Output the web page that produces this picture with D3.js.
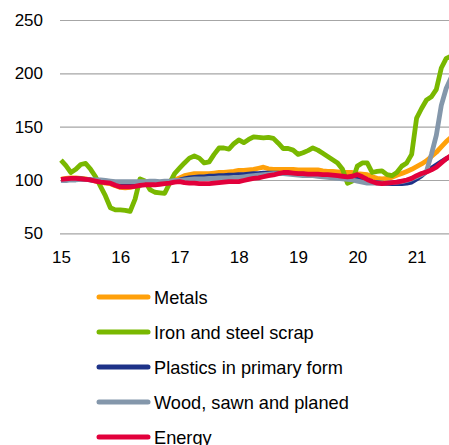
<!DOCTYPE html>
<html>
<head>
<meta charset="utf-8">
<script src="https://cdn.jsdelivr.net/npm/d3@7"></script>
<style>
  html, body { margin: 0; padding: 0; background: #fff; }
  svg { display: block; font-family: "Liberation Sans", Arial, sans-serif; }
</style>
</head>
<body>
<svg id="chart" width="449" height="445"></svg>
<script>
// Monthly index values, Jan 2015 onward
const yearTickLabels = ["15", "16", "17", "18", "19", "20", "21"];
const yTicks = [50, 100, 150, 200, 250];

const seriesNames = ["Metals", "Iron and steel scrap", "Plastics in primary form", "Wood, sawn and planed", "Energy"];
const seriesColors = ["#FFA00A", "#79B800", "#1D3288", "#8497AB", "#E2003B"];

const metals = [
  100.5,101.5,102,102,101.5,101,100,99,98,97,
  96.5,94.5,93,92.5,93,94,95.5,96,96.5,97,
  97.5,98.5,99,100,102,104,105,106,106,106,
  106,106.5,107,107,107.5,108,109,109,109.5,110,
  111,112,110.5,110,110,110,110,110,109.5,109.5,
  109.5,109.5,109.5,108.5,108,108,107.5,107,107,107,
  106,105.5,105,103,101.5,101,101.5,102.5,104.5,106,
  108,110,112.5,115,118,122,126,131,136,140
];
const ironScrap = [
  118.7,113.5,107,110,114.5,115.5,110,103,94,85,
  74,72,72,71.5,70.5,82,101,99,91,88.5,
  88,87.5,97,106,111,116,120.5,122.5,120.5,116,
  117,124,130,130,129,134,137.5,135,138,140.5,
  140,139.5,140,139,134.5,129.5,129.5,128,124,125.5,
  127.5,130,128,125,122,119,116,110,97,99,
  113,116,116,107,108,108.5,105,104,107,113,
  116,124,158,167,175,178,185,205,214,216
];
const plastics = [
  100,100,100.5,101,101,100.5,100,99.5,99,98.5,
  98,97,95.5,95,95,95,95.5,96,96.5,97,
  97.5,98,98.5,99,100,101,102,102.5,103,103,
  103.5,103.5,104,104,104.5,104.5,105,105,105.5,106,
  106,106.5,106.5,106.5,106.5,106,106,106,105.5,105.5,
  105,105,104.5,104,103.5,103,102.5,102,101.5,101,
  100.5,100,99,98,97.5,97,96.5,96.5,96.5,96.5,
  97,98,101,104,108,111,114,117,120,122
];
const wood = [
  100,99.5,100,100,100.5,100.5,100,100,100,99.5,
  99,98.5,98.5,98.5,98.5,98.5,98.5,98.5,99,99,
  98.5,99,99,99.5,99.5,100,100.5,101,101,101,
  101.5,101.5,102,102,102,102.5,102.5,103,103.5,104,
  104.5,105,105.5,106,106,106,105.5,105,104.5,104,
  104,104,103.5,103,102.5,102,101.5,101,100.5,100,
  99,98,97,97,97,97,97,97.5,98,98.5,
  99.5,101,103,105,108,124,142,170,186,196
];
const energy = [
  100.5,101,101.5,101.5,101,100.5,100,99,98,97.5,
  97,95,93.5,93.5,93.5,94,95,95.5,95.5,95.5,
  96,96.5,97,98,98.5,97.5,97,97,96.5,96.5,
  96.5,97,97.5,98,98.5,98.5,98.5,99.5,100.5,101.5,
  102,103,104,104.7,106,107,107,106.5,106,106,
  105.5,105.5,105.5,105,105,104.5,104,103.5,103,103.5,
  105,103,100.5,98.5,97,96.5,97,97.5,98,99,
  100,101.5,104,106,107.5,109.5,112,116,120,123
];
const allSeries = [metals, ironScrap, plastics, wood, energy];

const svg = d3.select("#chart");
const W = 449;
const plotLeft = 60;
const fontFam = "Liberation Sans, Arial, sans-serif";

const x = d3.scaleLinear().domain([0, 72]).range([61, 416.6]);
const y = d3.scaleLinear().domain([50, 250]).range([233.3, 20]);

// Y axis with gridlines
const yAxis = d3.axisLeft(y)
  .tickValues(yTicks)
  .tickSize(-(W - plotLeft))
  .tickPadding(17)
  .tickFormat(d3.format("d"));
const gy = svg.append("g").attr("transform", `translate(${plotLeft},0)`).call(yAxis);
gy.select(".domain").remove();
gy.selectAll(".tick line").attr("stroke", "#a6a6a6").attr("stroke-width", 1.2);
gy.selectAll(".tick text").attr("fill", "#000").attr("font-size", 17).attr("font-family", fontFam);

// X axis labels
const xAxis = d3.axisBottom(x)
  .tickValues(yearTickLabels.map((_, i) => i * 12))
  .tickSize(0)
  .tickPadding(17.5)
  .tickFormat((d, i) => yearTickLabels[i]);
const gx = svg.append("g").attr("transform", `translate(0,${y(50)})`).call(xAxis);
gx.select(".domain").remove();
gx.selectAll(".tick text").attr("fill", "#000").attr("font-size", 17).attr("font-family", fontFam);

// Lines
const line = d3.line().x((d, i) => x(i)).y(d => y(d));
allSeries.forEach((s, k) => {
  svg.append("path")
    .datum(s)
    .attr("fill", "none")
    .attr("stroke", seriesColors[k])
    .attr("stroke-width", 4.8)
    .attr("stroke-linejoin", "round")
    .attr("d", line);
});

// Legend
const legend = svg.append("g");
seriesNames.forEach((name, k) => {
  const ly = 297 + k * 35;
  legend.append("line")
    .attr("x1", 99).attr("x2", 148)
    .attr("y1", ly).attr("y2", ly)
    .attr("stroke", seriesColors[k])
    .attr("stroke-width", 5)
    .attr("stroke-linecap", "round");
  legend.append("text")
    .attr("x", 154).attr("y", ly + 7)
    .attr("font-size", 18.2)
    .attr("font-family", fontFam)
    .attr("fill", "#000")
    .text(name);
});
</script>
</body>
</html>
